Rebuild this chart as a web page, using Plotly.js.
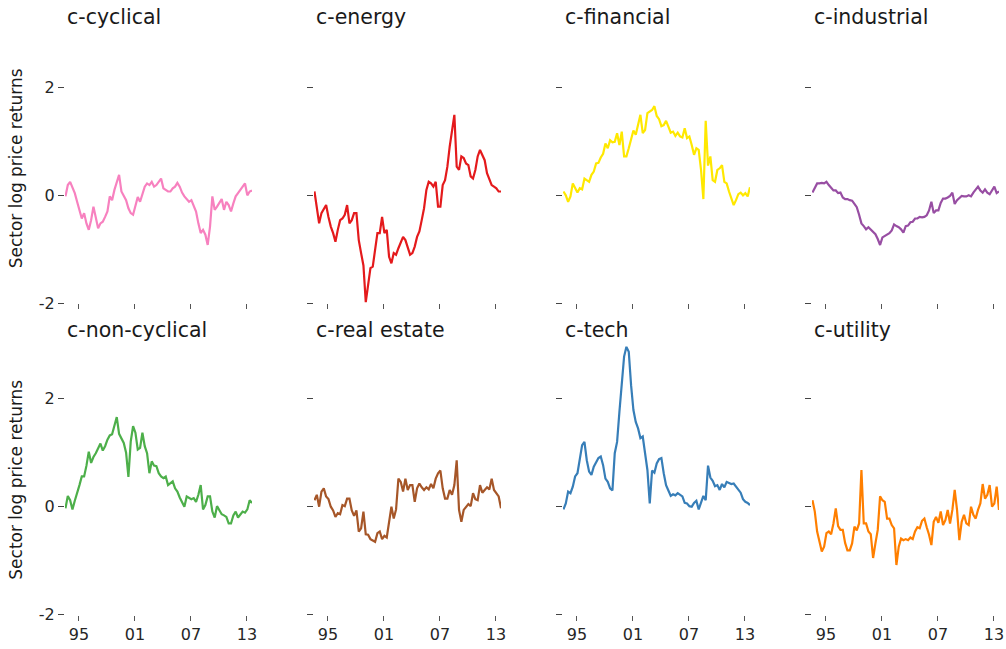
<!DOCTYPE html>
<html>
<head>
<meta charset="utf-8">
<script src="https://cdn.plot.ly/plotly-3.0.1.min.js"></script>
<style>
  html, body { margin: 0; padding: 0; background: #ffffff; }
  #chart { width: 1006px; height: 649px; }
</style>
</head>
<body>
<div id="chart"></div>
<script>
// ---- Data (quarterly observations, mid-1993 .. mid-2013) ----
const sectors = ["c-cyclical", "c-energy", "c-financial", "c-industrial",
                 "c-non-cyclical", "c-real estate", "c-tech", "c-utility"];
const sectorColors = ["#f781bf", "#e41a1c", "#ffe800", "#984ea3",
                      "#4daf4a", "#a65628", "#377eb8", "#ff7f00"];
const firstQuarter = 1993.55;
const quarterStep = 0.25;

const cyclical = [-0.02,0.19,0.25,0.16,0.04,-0.12,-0.27,-0.43,-0.33,-0.52,-0.64,-0.46,-0.21,-0.43,-0.61,-0.52,-0.49,-0.40,-0.30,-0.02,-0.09,0.10,0.22,0.38,0.07,0.0,-0.09,-0.24,-0.33,-0.36,-0.18,-0.03,-0.12,0.04,0.16,0.22,0.19,0.25,0.16,0.19,0.25,0.31,0.13,0.10,0.07,0.07,0.13,0.16,0.23,0.16,0.05,-0.02,-0.07,-0.12,-0.09,-0.18,-0.30,-0.52,-0.70,-0.64,-0.73,-0.92,-0.58,-0.02,-0.27,-0.21,-0.15,-0.07,-0.27,-0.12,-0.18,-0.30,-0.15,-0.02,0.04,0.10,0.16,0.22,0.0,0.07,0.09];
const energy = [0.07,-0.21,-0.52,-0.33,-0.24,-0.18,-0.40,-0.58,-0.70,-0.86,-0.64,-0.46,-0.43,-0.36,-0.18,-0.52,-0.46,-0.33,-0.33,-0.83,-1.07,-1.30,-1.98,-1.70,-1.35,-1.32,-1.01,-0.70,-0.70,-0.40,-0.70,-0.64,-1.14,-1.26,-1.07,-1.10,-0.98,-0.89,-0.77,-0.83,-0.95,-1.10,-1.07,-0.95,-0.77,-0.67,-0.46,-0.24,0.10,0.25,0.22,0.16,0.25,-0.21,-0.21,0.19,0.28,0.53,0.90,1.21,1.49,0.53,0.47,0.72,0.69,0.59,0.56,0.35,0.31,0.47,0.72,0.84,0.75,0.65,0.41,0.28,0.19,0.16,0.13,0.07,0.07];
const financial = [0.07,0.0,-0.12,-0.02,0.22,0.13,0.05,0.13,0.11,0.31,0.28,0.25,0.38,0.44,0.59,0.60,0.70,0.77,0.96,0.87,1.02,0.98,0.99,1.15,0.93,1.18,0.72,0.72,0.87,1.06,1.20,1.12,1.33,1.49,1.15,1.21,1.52,1.55,1.58,1.65,1.47,1.41,1.28,1.30,1.38,1.27,1.16,1.18,1.10,1.16,1.09,1.07,1.24,1.06,1.09,0.93,0.75,0.87,0.84,0.47,-0.07,1.38,0.55,0.72,0.28,0.25,0.47,0.50,0.56,0.25,0.22,0.07,-0.06,-0.18,-0.09,0.02,0.05,0.0,0.04,-0.02,0.15];
const industrial = [0.05,0.13,0.22,0.22,0.23,0.22,0.25,0.19,0.13,0.09,0.09,0.04,0.05,-0.04,-0.07,-0.07,-0.09,-0.10,-0.16,-0.22,-0.36,-0.52,-0.57,-0.63,-0.59,-0.63,-0.67,-0.72,-0.81,-0.92,-0.78,-0.75,-0.72,-0.70,-0.65,-0.54,-0.57,-0.59,-0.63,-0.69,-0.57,-0.56,-0.50,-0.49,-0.43,-0.43,-0.40,-0.41,-0.40,-0.37,-0.28,-0.12,-0.33,-0.28,-0.28,-0.14,-0.06,-0.06,-0.04,-0.01,0.05,-0.16,-0.09,-0.04,-0.01,-0.02,-0.02,0.0,-0.02,0.05,0.10,0.16,0.09,0.05,0.11,0.05,0.02,0.09,0.16,0.04,0.07];
const nonCyclical = [-0.03,0.20,0.12,-0.05,0.11,0.28,0.40,0.56,0.56,0.76,1.02,0.81,0.92,0.99,1.07,1.17,1.04,1.12,1.24,1.32,1.34,1.52,1.66,1.35,1.25,1.18,1.00,0.55,1.21,1.49,1.37,1.06,1.09,1.37,1.12,0.99,0.62,0.84,0.76,0.75,0.62,0.56,0.53,0.56,0.40,0.43,0.47,0.34,0.28,0.17,0.07,0.0,0.19,0.16,0.14,0.16,0.09,0.22,0.40,-0.05,0.03,0.19,0.19,-0.09,-0.20,0.01,-0.06,-0.14,-0.16,-0.19,-0.31,-0.31,-0.16,-0.09,-0.20,-0.14,-0.09,-0.11,-0.05,0.12,0.07];
const realEstate = [0.12,0.22,0.0,0.28,0.34,0.19,0.14,0.0,-0.07,-0.19,-0.12,-0.14,0.03,0.01,0.15,0.15,-0.07,-0.17,-0.07,-0.46,-0.40,-0.09,-0.51,-0.52,-0.60,-0.62,-0.65,-0.49,-0.46,-0.60,-0.54,-0.57,-0.28,0.0,-0.22,-0.05,0.52,0.46,0.28,0.52,0.31,0.40,0.40,0.09,0.34,0.43,0.36,0.31,0.36,0.32,0.42,0.34,0.52,0.62,0.67,0.34,0.15,0.15,0.31,0.22,0.40,0.86,-0.06,-0.28,-0.06,0.0,0.05,0.01,0.25,0.14,0.12,0.40,0.26,0.31,0.36,0.32,0.52,0.31,0.25,0.19,-0.03];
const tech = [-0.05,0.06,0.28,0.25,0.37,0.56,0.62,0.93,1.14,1.20,0.86,0.65,0.59,0.74,0.83,0.90,0.93,0.77,0.52,0.46,0.34,0.30,0.99,1.20,1.76,2.28,2.78,2.96,2.87,2.25,1.79,1.57,1.45,1.27,1.30,0.99,0.68,0.06,0.67,0.63,0.80,0.88,0.90,0.62,0.40,0.30,0.20,0.23,0.21,0.25,0.22,0.19,0.07,0.06,0.01,0.0,0.07,0.11,-0.05,0.07,0.20,0.12,0.76,0.54,0.48,0.38,0.40,0.31,0.42,0.36,0.46,0.44,0.42,0.43,0.38,0.31,0.26,0.14,0.09,0.07,0.03];
const utility = [0.12,-0.09,-0.46,-0.68,-0.83,-0.74,-0.49,-0.46,-0.51,-0.31,-0.03,-0.36,-0.43,-0.43,-0.67,-0.81,-0.81,-0.68,-0.37,-0.44,-0.31,0.68,-0.31,-0.31,-0.46,-0.51,-0.95,-0.68,-0.43,0.19,0.12,0.09,-0.22,-0.22,-0.34,-0.40,-1.08,-0.74,-0.59,-0.62,-0.60,-0.62,-0.57,-0.60,-0.46,-0.38,-0.40,-0.26,-0.22,-0.38,-0.52,-0.71,-0.28,-0.19,-0.30,-0.09,-0.34,-0.25,-0.06,-0.31,-0.06,0.31,-0.06,-0.62,-0.28,-0.15,-0.31,-0.34,0.0,-0.15,-0.22,-0.06,0.06,0.42,0.15,0.22,0.40,0.0,0.06,0.37,-0.06];

const xTickVals = [1995, 2001, 2007, 2013];
const xTickText = ["95", "01", "07", "13"];
const yTickVals = [-2, 0, 2];
const yTickText = ["-2", "0", "2"];
const yAxisTitle = "Sector log price returns";

const seriesList = [cyclical, energy, financial, industrial,
                    nonCyclical, realEstate, tech, utility];

// ---- Layout geometry (pixels) ----
const W = 1006, H = 649;
const colLeft = [65, 314, 563, 812];
const colWidth = 187;
const rowTop = [33.3, 344.7];
const rowHeight = 270;
const titleCenterY = [17, 330];
const fontFamily = "DejaVu Sans, Verdana, sans-serif";

const traces = [];
const layout = {
  width: W, height: H,
  margin: {l: 0, r: 0, t: 0, b: 0},
  paper_bgcolor: "#ffffff",
  plot_bgcolor: "#ffffff",
  showlegend: false,
  font: {family: fontFamily, size: 16, color: "#262626"},
  annotations: []
};

seriesList.forEach((vals, k) => {
  const row = k < 4 ? 0 : 1;
  const col = k % 4;
  const xs = vals.map((_, i) => firstQuarter + i * quarterStep);
  const sfx = k === 0 ? "" : String(k + 1);
  traces.push({
    type: "scatter", mode: "lines",
    x: xs, y: vals,
    xaxis: "x" + sfx, yaxis: "y" + sfx,
    line: {color: sectorColors[k], width: 2.2},
    hoverinfo: "skip"
  });
  layout["xaxis" + sfx] = {
    domain: [colLeft[col] / W, (colLeft[col] + colWidth) / W],
    anchor: "y" + sfx,
    range: [1993.5, 2013.55],
    tickmode: "array", tickvals: xTickVals, ticktext: xTickText,
    showticklabels: row === 1,
    ticks: "outside", ticklen: 5, tickwidth: 1, tickcolor: "#555555",
    tickfont: {size: 16, family: fontFamily, color: "#262626"},
    showgrid: false, zeroline: false, showline: false, fixedrange: true
  };
  layout["yaxis" + sfx] = {
    domain: [1 - (rowTop[row] + rowHeight) / H, 1 - rowTop[row] / H],
    anchor: "x" + sfx,
    range: [-2, 3],
    tickmode: "array", tickvals: yTickVals, ticktext: yTickText,
    showticklabels: col === 0,
    ticks: "outside", ticklen: 6, tickwidth: 1, tickcolor: "#444444",
    tickfont: {size: 16, family: fontFamily, color: "#262626"},
    showgrid: false, zeroline: false, showline: false, fixedrange: true
  };
  layout.annotations.push({
    text: sectors[k], xref: "paper", yref: "paper",
    x: colLeft[col] / W, y: 1 - titleCenterY[row] / H,
    xanchor: "left", yanchor: "middle", showarrow: false,
    font: {size: 20.5, family: fontFamily, color: "#1a1a1a"}
  });
});

[0, 1].forEach(row => {
  layout.annotations.push({
    text: yAxisTitle, xref: "paper", yref: "paper",
    x: 16 / W, y: 1 - (rowTop[row] + rowHeight / 2) / H,
    xanchor: "center", yanchor: "middle", textangle: -90, showarrow: false,
    font: {size: 17, family: fontFamily, color: "#1a1a1a"}
  });
});

Plotly.newPlot("chart", traces, layout, {staticPlot: true, displayModeBar: false});
</script>
</body>
</html>
